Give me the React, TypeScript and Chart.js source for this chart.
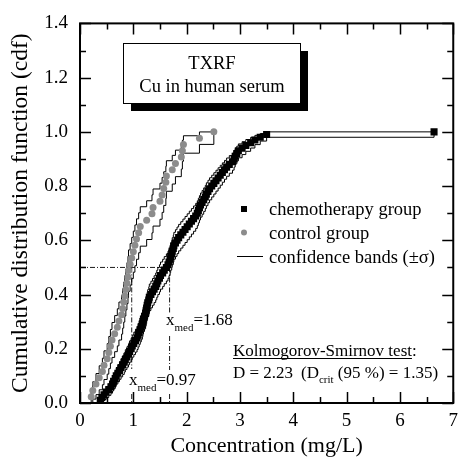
import React, { useEffect, useRef } from "react";
import { Chart, registerables } from "chart.js";

Chart.register(...registerables);

const SERIF = "'Liberation Serif', 'Times New Roman', Times, serif";

// Concentrations (mg/L), sorted
const chemoValues = [
  0.38, 0.41, 0.45, 0.49, 0.54, 0.58, 0.61, 0.63, 0.66, 0.68,
  0.71, 0.74, 0.77, 0.80, 0.83, 0.85, 0.88, 0.91, 0.93, 0.96,
  0.98, 1.01, 1.04, 1.07, 1.09, 1.11, 1.13, 1.15, 1.17, 1.18,
  1.19, 1.21, 1.23, 1.24, 1.25, 1.26, 1.27, 1.29, 1.30, 1.33,
  1.36, 1.39, 1.42, 1.44, 1.46, 1.49, 1.51, 1.55, 1.58, 1.62,
  1.65, 1.67, 1.69, 1.70, 1.72, 1.73, 1.75, 1.76, 1.79, 1.82,
  1.85, 1.89, 1.93, 1.97, 2.01, 2.05, 2.09, 2.13, 2.17, 2.20,
  2.22, 2.24, 2.26, 2.29, 2.32, 2.35, 2.37, 2.40, 2.43, 2.47,
  2.51, 2.55, 2.59, 2.63, 2.67, 2.71, 2.75, 2.80, 2.86, 2.89,
  2.91, 2.94, 2.97, 3.04, 3.11, 3.20, 3.28, 3.38, 3.50, 6.64,
];

const controlValues = [
  0.21, 0.24, 0.30, 0.36, 0.42, 0.45, 0.51, 0.54, 0.57, 0.60,
  0.65, 0.70, 0.73, 0.78, 0.80, 0.82, 0.84, 0.86, 0.88, 0.90,
  0.91, 0.94, 0.97, 1.00, 1.03, 1.06, 1.10, 1.13, 1.25, 1.35,
  1.37, 1.50, 1.54, 1.57, 1.61, 1.62, 1.73, 1.79, 1.90, 1.92,
  1.94, 2.24, 2.51,
];

const medianChemo = 1.68;
const medianControl = 0.97;
const medianLevel = 0.5;

const xRange = [0, 7];
const yRange = [0, 1.4];

const legendLabels = ["chemotherapy group", "control group", "confidence bands (\u00B1\u03C3)"];
const boxLines = ["TXRF", "Cu in human serum"];
const ksTitle = "Kolmogorov-Smirnov test";
const ksD = "2.23";
const ksDcrit = "1.35";
const ksLevel = "95 %";

const xTitle = "Concentration (mg/L)";
const yTitle = "Cumulative distribution function (cdf)";

const GRAY = "#8c8c8c";

function ecdf(values: number[]) {
  const n = values.length;
  return values.map((v, i) => ({ x: v, y: (i + 1) / n }));
}

function band(values: number[], sign: number) {
  const n = values.length;
  const pts = [{ x: values[0], y: 0 }];
  values.forEach((v, i) => {
    const F = (i + 1) / n;
    const s = Math.sqrt((F * (1 - F)) / n);
    pts.push({ x: v, y: Math.min(1, Math.max(0, F + sign * s)) });
  });
  return pts;
}

function font(size: number) {
  return `${size}px ${SERIF}`;
}

function subText(ctx: CanvasRenderingContext2D, x: number, y: number, main: string, sub: string, rest: string, size: number, subSize: number, drop: number, gap = 0) {
  ctx.font = font(size);
  ctx.fillText(main, x, y);
  let w = ctx.measureText(main).width;
  ctx.font = font(subSize);
  ctx.fillText(sub, x + w, y + drop);
  w += ctx.measureText(sub).width + gap;
  ctx.font = font(size);
  ctx.fillText(rest, x + w, y);
}

const decorations = {
  id: "decorations",
  beforeDatasetsDraw(chart: any) {
    const { ctx, scales } = chart;
    const xs = scales.x, ys = scales.y;
    const y5 = ys.getPixelForValue(medianLevel);
    const y0 = ys.getPixelForValue(0);
    const xa = xs.getPixelForValue(0);
    const xc = xs.getPixelForValue(medianControl);
    const xm = xs.getPixelForValue(medianChemo);
    ctx.save();
    ctx.strokeStyle = "#000";
    ctx.lineWidth = 0.9;
    ctx.setLineDash([5, 2, 1, 2]);
    const seg = (x1: number, y1: number, x2: number, y2: number) => {
      ctx.beginPath();
      ctx.moveTo(x1, y1);
      ctx.lineTo(x2, y2);
      ctx.stroke();
    };
    seg(xa, y5, xm, y5);
    seg(xc, y5, xc, 369);
    seg(xc, 394, xc, y0);
    seg(xm, y5, xm, 313);
    seg(xm, 336, xm, 370);
    seg(xm, 394, xm, y0);
    ctx.restore();
  },
  afterDatasetsDraw(chart: any) {
    const { ctx } = chart;
    ctx.save();
    ctx.fillStyle = "#000";
    ctx.textBaseline = "alphabetic";
    ctx.textAlign = "left";

    // median labels
    subText(ctx, 166, 325, "x", "med", "=" + medianChemo.toFixed(2), 17, 11, 6);
    subText(ctx, 129, 385, "x", "med", "=" + medianControl.toFixed(2), 17, 11, 6);

    // text box with shadow
    ctx.fillStyle = "#000";
    ctx.fillRect(131, 51, 177, 60);
    ctx.fillStyle = "#fff";
    ctx.fillRect(123, 43, 177, 60);
    ctx.strokeStyle = "#000";
    ctx.lineWidth = 1;
    ctx.strokeRect(123.5, 43.5, 177, 60);
    ctx.fillStyle = "#000";
    ctx.textAlign = "center";
    ctx.font = font(18.5);
    ctx.fillText(boxLines[0], 212, 69);
    ctx.fillText(boxLines[1], 212, 92);
    ctx.textAlign = "left";

    // legend
    ctx.fillStyle = "#000";
    ctx.fillRect(241, 206, 6, 6);
    ctx.fillStyle = GRAY;
    ctx.beginPath();
    ctx.arc(244, 232.5, 3, 0, Math.PI * 2);
    ctx.fill();
    ctx.strokeStyle = "#000";
    ctx.lineWidth = 1;
    ctx.beginPath();
    ctx.moveTo(237, 256.5);
    ctx.lineTo(263, 256.5);
    ctx.stroke();
    ctx.fillStyle = "#000";
    ctx.font = font(18.5);
    ctx.fillText(legendLabels[0], 269, 215);
    ctx.fillText(legendLabels[1], 269, 239);
    ctx.fillText(legendLabels[2], 269, 263);

    // KS test text
    ctx.font = font(17);
    ctx.fillText(ksTitle + ":", 233, 356);
    const tw = ctx.measureText(ksTitle).width;
    ctx.beginPath();
    ctx.moveTo(233, 358.5);
    ctx.lineTo(233 + tw, 358.5);
    ctx.stroke();
    ctx.fillText("D = " + ksD, 233, 378);
    subText(ctx, 301, 378, "(D", "crit", " (" + ksLevel + ") = " + ksDcrit + ")", 17, 11, 5);
    ctx.restore();
  },
  afterDraw(chart: any) {
    const { ctx, chartArea, scales } = chart;
    const { left, right, top, bottom } = chartArea;
    const xs = scales.x, ys = scales.y;
    ctx.save();
    ctx.strokeStyle = "#000";
    ctx.lineWidth = 1.5;
    for (let i = 0; i <= 14; i++) {
      const v = i * 0.5;
      const px = Math.round(xs.getPixelForValue(v)) + 0.5;
      const len = i % 2 === 0 ? 11 : 6;
      ctx.beginPath();
      ctx.moveTo(px, bottom);
      ctx.lineTo(px, bottom - len);
      ctx.moveTo(px, top);
      ctx.lineTo(px, top + len);
      ctx.stroke();
    }
    for (let i = 0; i <= 14; i++) {
      const v = i * 0.1;
      const py = Math.round(ys.getPixelForValue(v)) + 0.5;
      const len = i % 2 === 0 ? 11 : 6;
      ctx.beginPath();
      ctx.moveTo(left, py);
      ctx.lineTo(left + len, py);
      ctx.moveTo(right, py);
      ctx.lineTo(right - len, py);
      ctx.stroke();
    }
    ctx.lineWidth = 2;
    ctx.strokeRect(left, top, right - left, bottom - top);
    ctx.restore();
  },
};

export default function App() {
  const ref = useRef<HTMLCanvasElement | null>(null);

  useEffect(() => {
    if (!ref.current) return;
    const lineBase = {
      showLine: true,
      stepped: "before" as const,
      borderColor: "#000",
      borderWidth: 1,
      pointRadius: 0,
      fill: false,
      order: 3,
    };
    const chart = new Chart(ref.current, {
      type: "scatter",
      data: {
        datasets: [
          {
            label: legendLabels[0],
            data: ecdf(chemoValues),
            pointStyle: "rect",
            pointRadius: 5,
            backgroundColor: "#000",
            borderWidth: 0,
            order: 1,
          },
          {
            label: legendLabels[1],
            data: ecdf(controlValues),
            pointStyle: "circle",
            pointRadius: 3.5,
            backgroundColor: GRAY,
            borderWidth: 0,
            order: 2,
          },
          { label: "chemo upper", data: band(chemoValues, 1), ...lineBase },
          { label: "chemo lower", data: band(chemoValues, -1), ...lineBase },
          { label: "control upper", data: band(controlValues, 1), ...lineBase },
          { label: "control lower", data: band(controlValues, -1), ...lineBase },
        ] as any,
      },
      options: {
        animation: false,
        responsive: false,
        maintainAspectRatio: false,
        layout: { padding: { left: 0, right: 6, top: 23, bottom: 0 } },
        plugins: {
          legend: { display: false },
          tooltip: { enabled: false },
        },
        scales: {
          x: {
            type: "linear",
            min: xRange[0],
            max: xRange[1],
            grid: { display: false, drawTicks: false },
            border: { display: false },
            ticks: {
              stepSize: 1,
              padding: 7,
              color: "#000",
              font: { family: SERIF, size: 19 },
              callback: (v: any) => String(v),
            },
            title: {
              display: true,
              text: xTitle,
              color: "#000",
              font: { family: SERIF, size: 22, lineHeight: 1 },
              padding: { top: 0, bottom: 2 },
            },
            afterFit: (s: any) => {
              s.height = 56;
            },
          },
          y: {
            type: "linear",
            min: yRange[0],
            max: yRange[1],
            grid: { display: false, drawTicks: false },
            border: { display: false },
            ticks: {
              stepSize: 0.2,
              padding: 12,
              color: "#000",
              font: { family: SERIF, size: 19 },
              callback: (v: any) => Number(v).toFixed(1),
            },
            title: {
              display: true,
              text: yTitle,
              color: "#000",
              font: { family: SERIF, size: 23.5, lineHeight: 1 },
              padding: { top: 9, bottom: 0 },
            },
            afterFit: (s: any) => {
              s.width = 80;
            },
          },
        },
      } as any,
      plugins: [decorations],
    });
    return () => chart.destroy();
  }, []);

  return (
    <div style={{ position: "absolute", left: 0, top: 0, width: 465, height: 459, background: "#fff" }}>
      <canvas ref={ref} width={465} height={459} style={{ display: "block" }} />
    </div>
  );
}
